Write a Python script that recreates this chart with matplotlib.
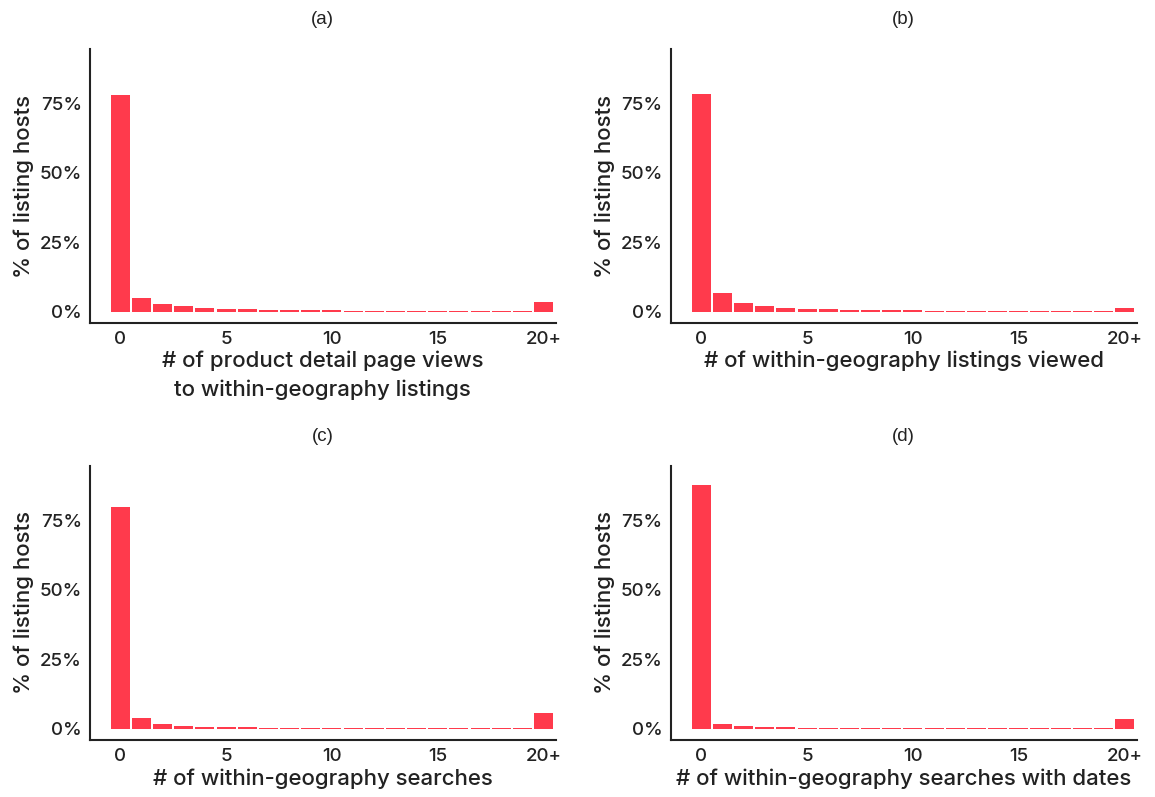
import matplotlib
matplotlib.use("Agg")
import matplotlib.pyplot as plt
from matplotlib.ticker import FuncFormatter

bins = list(range(21))
tick_pos = [0, 5, 10, 15, 20]
tick_labels = ["0", "5", "10", "15", "20+"]

pct_a = [78.0, 5.0, 2.8, 1.9, 1.4, 1.0, 0.85, 0.7, 0.6, 0.5, 0.45, 0.4, 0.4, 0.35, 0.3, 0.3, 0.3, 0.25, 0.25, 0.2, 3.4]
pct_b = [78.5, 6.8, 3.2, 2.1, 1.5, 1.1, 0.9, 0.7, 0.6, 0.5, 0.45, 0.4, 0.35, 0.35, 0.3, 0.3, 0.25, 0.25, 0.2, 0.2, 1.5]
pct_c = [79.8, 3.8, 1.8, 1.2, 0.8, 0.6, 0.5, 0.45, 0.4, 0.4, 0.35, 0.35, 0.3, 0.3, 0.25, 0.25, 0.25, 0.2, 0.2, 0.2, 5.8]
pct_d = [87.7, 1.7, 1.0, 0.8, 0.5, 0.45, 0.4, 0.4, 0.35, 0.35, 0.3, 0.3, 0.3, 0.25, 0.25, 0.2, 0.2, 0.2, 0.2, 0.2, 3.7]

titles = ["(a)", "(b)", "(c)", "(d)"]
xlabels = ["# of product detail page views\nto within-geography listings",
           "# of within-geography listings viewed",
           "# of within-geography searches",
           "# of within-geography searches with dates"]
ylabel = "% of listing hosts"
yticks = [0, 25, 50, 75]

BAR = "#FF3A4C"
TXT = "#222222"
FONT = ["Inter", "DejaVu Sans"]

fig = plt.figure(figsize=(11.55, 7.97), dpi=100)
rects = [
    [0.078, 0.595, 0.403, 0.343],
    [0.581, 0.595, 0.403, 0.343],
    [0.078, 0.0715, 0.403, 0.344],
    [0.581, 0.0715, 0.403, 0.344],
]
data = [pct_a, pct_b, pct_c, pct_d]

for r, vals, t, xl in zip(rects, data, titles, xlabels):
    ax = fig.add_axes(r)
    ax.bar(bins, vals, width=0.9, color=BAR, edgecolor="none")
    ax.set_xlim(-1.43, 20.57)
    ax.set_ylim(-4, 94.5)
    for s in ["top", "right"]:
        ax.spines[s].set_visible(False)
    for s in ["left", "bottom"]:
        ax.spines[s].set_color(TXT)
        ax.spines[s].set_linewidth(1.5)
    ax.set_xticks(tick_pos)
    ax.set_xticklabels(tick_labels)
    ax.set_yticks(yticks)
    ax.yaxis.set_major_formatter(FuncFormatter(lambda v, p: f"{int(v)}%"))
    ax.tick_params(length=0, pad=6, labelsize=13.5, labelcolor=TXT)
    for lab in ax.get_xticklabels() + ax.get_yticklabels():
        lab.set_family(FONT)
        lab.set_fontweight("medium")
    ax.set_xlabel(xl, fontsize=16, color=TXT, family=FONT, fontweight="medium",
                  labelpad=2, linespacing=1.5)
    ax.set_ylabel(ylabel, fontsize=16, color=TXT, family=FONT, fontweight="medium", labelpad=4)
    ax.set_title(t, fontsize=13.5, color=TXT, family=["Liberation Sans"], pad=18)

fig.savefig("out.png", dpi=100)
